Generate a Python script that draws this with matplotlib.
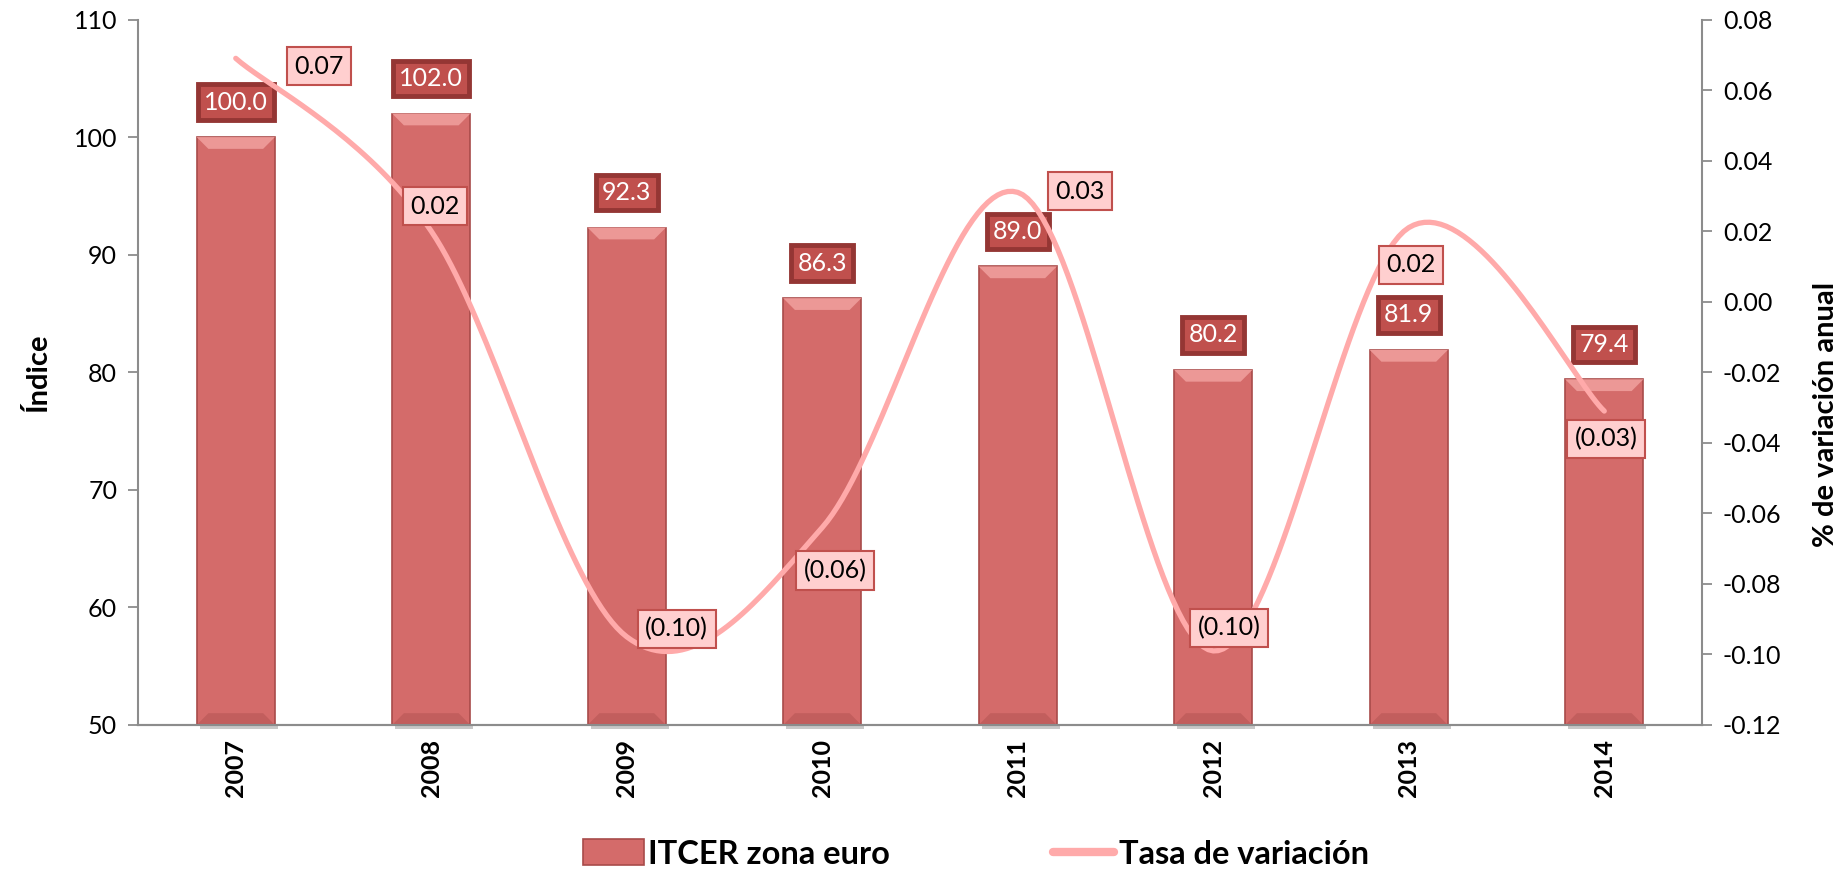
import numpy as np
import matplotlib.pyplot as plt
from matplotlib.patches import Polygon, Rectangle
from matplotlib.lines import Line2D
from matplotlib.ticker import FormatStrFormatter

plt.rcParams['font.family'] = ['Lato', 'DejaVu Sans']

# Datos
years = ['2007', '2008', '2009', '2010', '2011', '2012', '2013', '2014']
itcer = [100.0, 102.0, 92.3, 86.3, 89.0, 80.2, 81.9, 79.4]
tasa = [0.069, 0.020, -0.095, -0.064, 0.031, -0.099, 0.021, -0.031]

# desplazamiento (px) de las etiquetas de la tasa respecto al punto
tasa_offsets = [(83, -8), (4, 25), (50, 8), (13, -43),
                (62, 1), (16, 23), (2, -37), (2, -28)]

BAR = '#D46B6A'
BAR_EDGE = '#A84B4A'
LINE = '#FFAAAA'


def smooth_curve(xs, ys, n=40):
    """Curva suavizada tipo Catmull-Rom (como la linea suavizada de Excel)."""
    pts = np.column_stack([xs, ys]).astype(float)
    ext = np.vstack([pts[0], pts, pts[-1]])
    out = []
    t = np.linspace(0, 1, n)
    for i in range(1, len(ext) - 2):
        p0, p1, p2, p3 = ext[i - 1], ext[i], ext[i + 1], ext[i + 2]
        c1 = p1 + (p2 - p0) / 6
        c2 = p2 - (p3 - p1) / 6
        seg = ((1 - t) ** 3)[:, None] * p1 + (3 * (1 - t) ** 2 * t)[:, None] * c1 \
            + (3 * (1 - t) * t ** 2)[:, None] * c2 + (t ** 3)[:, None] * p2
        out.append(seg if i == 1 else seg[1:])
    out = np.vstack(out)
    return out[:, 0], out[:, 1]


fig = plt.figure(figsize=(18.45, 8.72), dpi=100)
ax = fig.add_axes([0.0748, 0.1686, 0.8477, 0.809])
ax2 = ax.twinx()

x = np.arange(len(years))
bars = ax.bar(x, itcer, width=0.4, color=BAR, edgecolor=BAR_EDGE,
              linewidth=1.2, zorder=2)

# efecto bisel en las barras
for rect in bars:
    x0, w, h = rect.get_x(), rect.get_width(), rect.get_height()
    top = h
    dy, dx = 1.0, 0.06
    ax.add_patch(Polygon([[x0, top], [x0 + w, top], [x0 + w - dx, top - dy],
                          [x0 + dx, top - dy]], closed=True,
                         facecolor='#EC9896', edgecolor='none', zorder=3))
    ax.add_patch(Polygon([[x0, 50], [x0 + w, 50], [x0 + w - dx, 50 + dy],
                          [x0 + dx, 50 + dy]], closed=True,
                         facecolor='#C25E5D', edgecolor='none', zorder=3))
    ax.add_patch(Rectangle((x0 + 0.015, 50 - 0.35), w, 0.35, facecolor='#C8C8C8',
                           edgecolor='none', zorder=1, clip_on=False))

for xi, v in zip(x, itcer):
    ax.annotate(f'{v:.1f}', (xi, v), xytext=(0, 35), textcoords='offset pixels',
                ha='center', va='center', fontsize=18, color='white', zorder=6,
                bbox=dict(boxstyle='square,pad=0.25', facecolor='#C0504D',
                          edgecolor='#943634', linewidth=3.5))

ax.set_xlim(-0.5, len(years) - 0.5)
ax.set_ylim(50, 110)
ax.set_yticks(np.arange(50, 111, 10))
ax.set_xticks(x)
ax.set_xticklabels(years, rotation=90, fontweight='bold', fontsize=18)
ax.set_ylabel('Índice', fontsize=21, fontweight='bold', labelpad=16)

# linea de tasa de variacion (suavizada)
sx, sy = smooth_curve(x, tasa)
ax2.plot(sx, sy, color=LINE, linewidth=3.8, solid_capstyle='round', zorder=4)
ax2.set_ylim(-0.12, 0.08)
ax2.set_yticks(np.arange(-0.12, 0.081, 0.02))
ax2.yaxis.set_major_formatter(FormatStrFormatter('%.2f'))
ax2.set_ylabel('% de variación anual', fontsize=21, fontweight='bold')
ax2.yaxis.set_label_coords(1.071, 0.44)

for xi, v, (ox, oy) in zip(x, tasa, tasa_offsets):
    txt = f'{v:.2f}' if v >= 0 else f'({abs(v):.2f})'
    ax2.annotate(txt, (xi, v), xytext=(ox, oy), textcoords='offset pixels',
                 ha='center', va='center', fontsize=18, color='black', zorder=7,
                 bbox=dict(boxstyle='square,pad=0.3', facecolor='#FFCFCF',
                           edgecolor='#C0504D', linewidth=1.5))

ax2.set_zorder(ax.get_zorder() + 1)
ax2.patch.set_visible(False)

for a in (ax, ax2):
    a.spines['top'].set_visible(False)
    for s in ('left', 'right', 'bottom'):
        a.spines[s].set_color('#8C8C8C')
        a.spines[s].set_linewidth(1.5)
    a.tick_params(axis='y', labelsize=18, color='#8C8C8C', length=7, width=1.3,
                  pad=8)
ax.tick_params(axis='x', length=0, pad=10)
ax.spines['right'].set_visible(False)
ax2.spines['left'].set_visible(False)

handles = [Rectangle((0, 0), 1, 1, facecolor=BAR, edgecolor=BAR_EDGE, linewidth=1.2),
           Line2D([0], [0], color=LINE, linewidth=6, solid_capstyle='round')]
fig.legend(handles, ['ITCER zona euro', 'Tasa de variación'], loc='lower center',
           bbox_to_anchor=(0.529, -0.03), ncol=2, frameon=False,
           prop=dict(size=23.5, weight='bold'), handlelength=1.85, handleheight=0.85,
           handletextpad=0.15, columnspacing=5.0)

fig.savefig('out.png', dpi=100, facecolor='white')
